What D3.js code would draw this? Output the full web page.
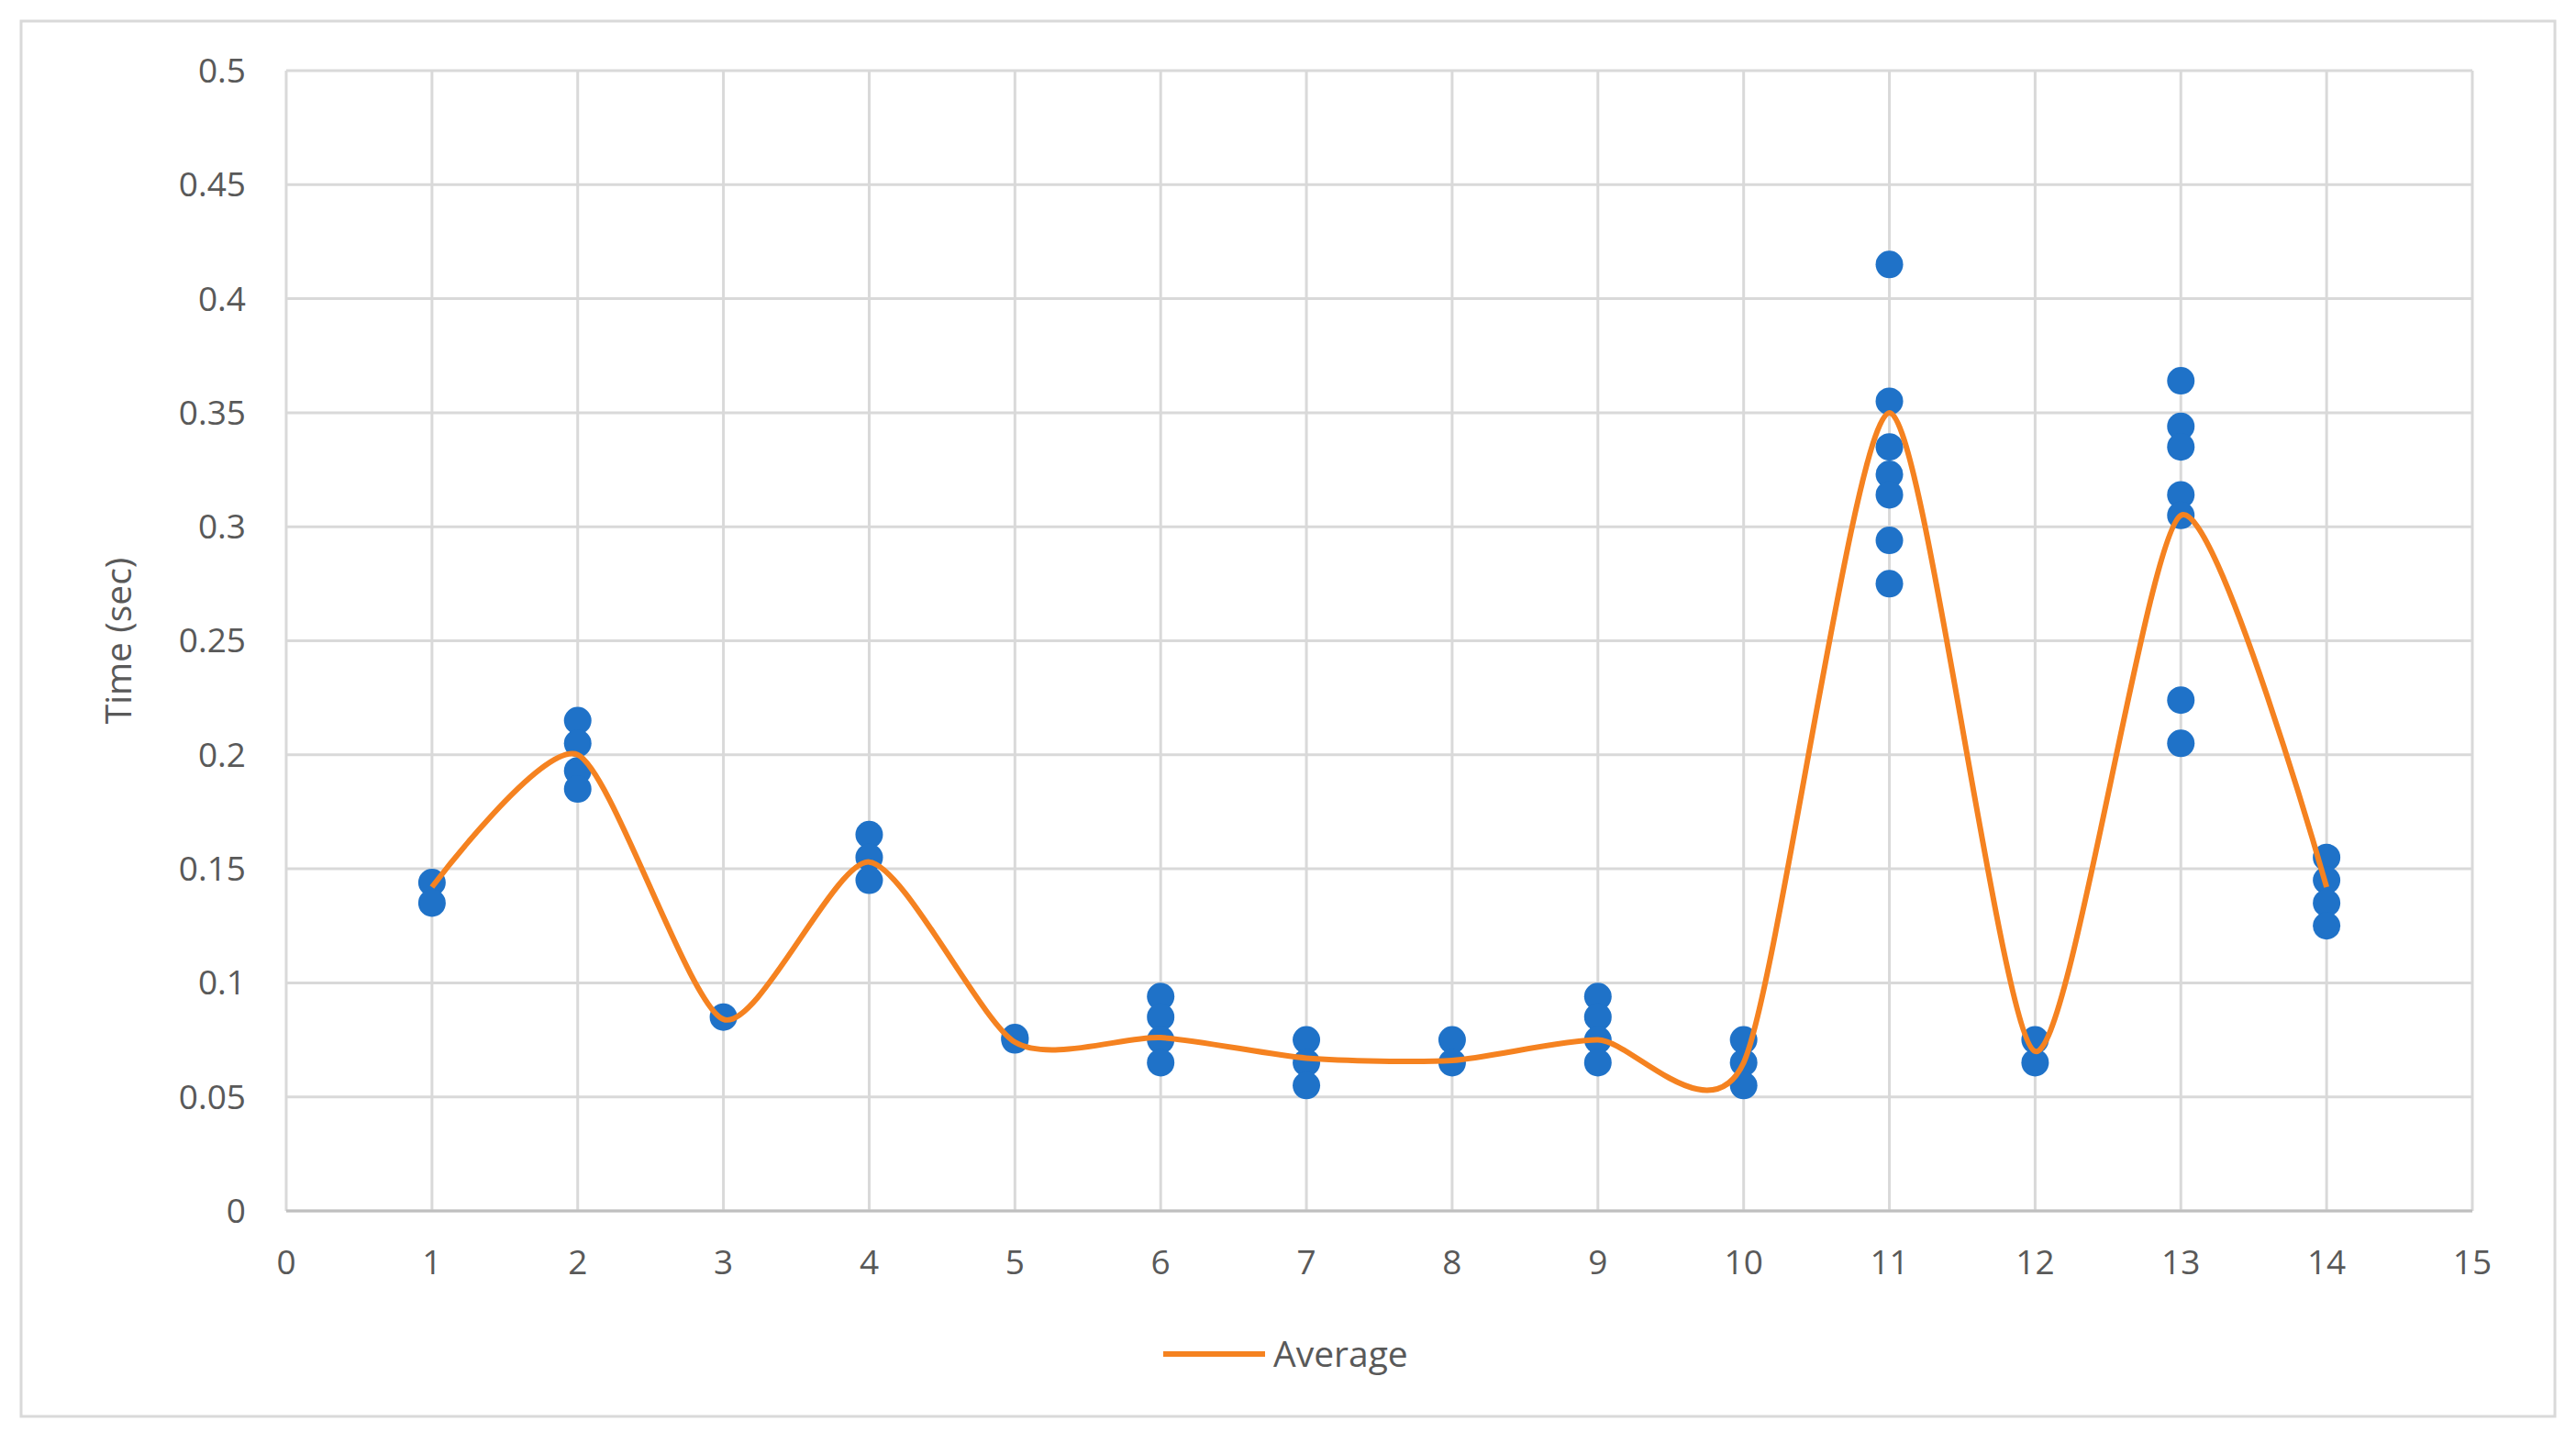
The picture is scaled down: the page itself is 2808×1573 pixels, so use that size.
<!DOCTYPE html>
<html><head><meta charset="utf-8">
<script src="https://d3js.org/d3.v7.min.js"></script>
<style>body{margin:0;background:#fff}svg{display:block}</style></head>
<body><script>
const xs = [1,2,3,4,5,6,7,8,9,10,11,12,13,14];
const samples = [
 [0.144,0.135],
 [0.215,0.205,0.193,0.185],
 [0.085],
 [0.165,0.155,0.145],
 [0.076,0.075],
 [0.094,0.085,0.075,0.065],
 [0.075,0.065,0.055],
 [0.075,0.065],
 [0.094,0.085,0.075,0.065],
 [0.075,0.065,0.055],
 [0.415,0.355,0.335,0.323,0.314,0.294,0.275],
 [0.075,0.065],
 [0.364,0.344,0.335,0.314,0.305,0.224,0.205],
 [0.155,0.145,0.135,0.125]
];
const average = [0.142,0.2,0.084,0.153,0.074,0.076,0.067,0.066,0.075,0.065,0.35,0.07,0.305,0.142];
const xTicks = d3.range(0,16);
const yTicks = [0,0.05,0.1,0.15,0.2,0.25,0.3,0.35,0.4,0.45,0.5];

const W=2808,H=1573, L=312,R=2695,T=77,B=1320;
const svg=d3.select("body").append("svg").attr("width",W).attr("height",H);
svg.append("rect").attr("x",23).attr("y",23).attr("width",2762).attr("height",1521).attr("fill","#fff").attr("stroke","#d9d9d9").attr("stroke-width",3);
const x=d3.scaleLinear().domain([0,15]).range([L,R]);
const y=d3.scaleLinear().domain([0,0.5]).range([B,T]);
const font="'Open Sans', sans-serif", tc="#595959";
svg.append("g").selectAll("line").data(yTicks).join("line")
 .attr("x1",L).attr("x2",R).attr("y1",d=>y(d)).attr("y2",d=>y(d)).attr("stroke","#d9d9d9").attr("stroke-width",3);
svg.append("g").selectAll("line").data(xTicks).join("line")
 .attr("y1",T).attr("y2",B).attr("x1",d=>x(d)).attr("x2",d=>x(d)).attr("stroke","#d9d9d9").attr("stroke-width",3);
svg.append("line").attr("x1",L).attr("x2",R).attr("y1",B).attr("y2",B).attr("stroke","#bfbfbf").attr("stroke-width",3);
svg.append("g").selectAll("text").data(yTicks).join("text")
 .attr("x",L-44).attr("y",d=>y(d)).attr("dy","0.35em").attr("text-anchor","end")
 .attr("font-family",font).attr("font-size",37).attr("fill",tc).text(d=>d);
svg.append("g").selectAll("text").data(xTicks).join("text")
 .attr("x",d=>x(d)).attr("y",B+56).attr("dy","0.35em").attr("text-anchor","middle")
 .attr("font-family",font).attr("font-size",37).attr("fill",tc).text(d=>d);
svg.append("text").attr("transform",`translate(129,${(T+B)/2}) rotate(-90)`).attr("text-anchor","middle").attr("dy","0.35em")
 .attr("font-family",font).attr("font-size",39).attr("fill",tc).text("Time (sec)");
const pts=[];samples.forEach((s,i)=>s.forEach(v=>pts.push([xs[i],v])));
svg.append("g").selectAll("circle").data(pts).join("circle")
 .attr("cx",d=>x(d[0])).attr("cy",d=>y(d[1])).attr("r",15).attr("fill","#1f72c8");
const line=d3.line().x((d,i)=>x(xs[i])).y(d=>y(d)).curve(d3.curveCardinal.tension(0.3));
svg.append("path").attr("d",line(average)).attr("fill","none").attr("stroke","#f58220").attr("stroke-width",6);
svg.append("line").attr("x1",1268).attr("x2",1379).attr("y1",1476).attr("y2",1476).attr("stroke","#f58220").attr("stroke-width",6);
svg.append("text").attr("x",1388).attr("y",1476).attr("dy","0.35em").attr("font-family",font).attr("font-size",39).attr("fill",tc).text("Average");
</script></body></html>
